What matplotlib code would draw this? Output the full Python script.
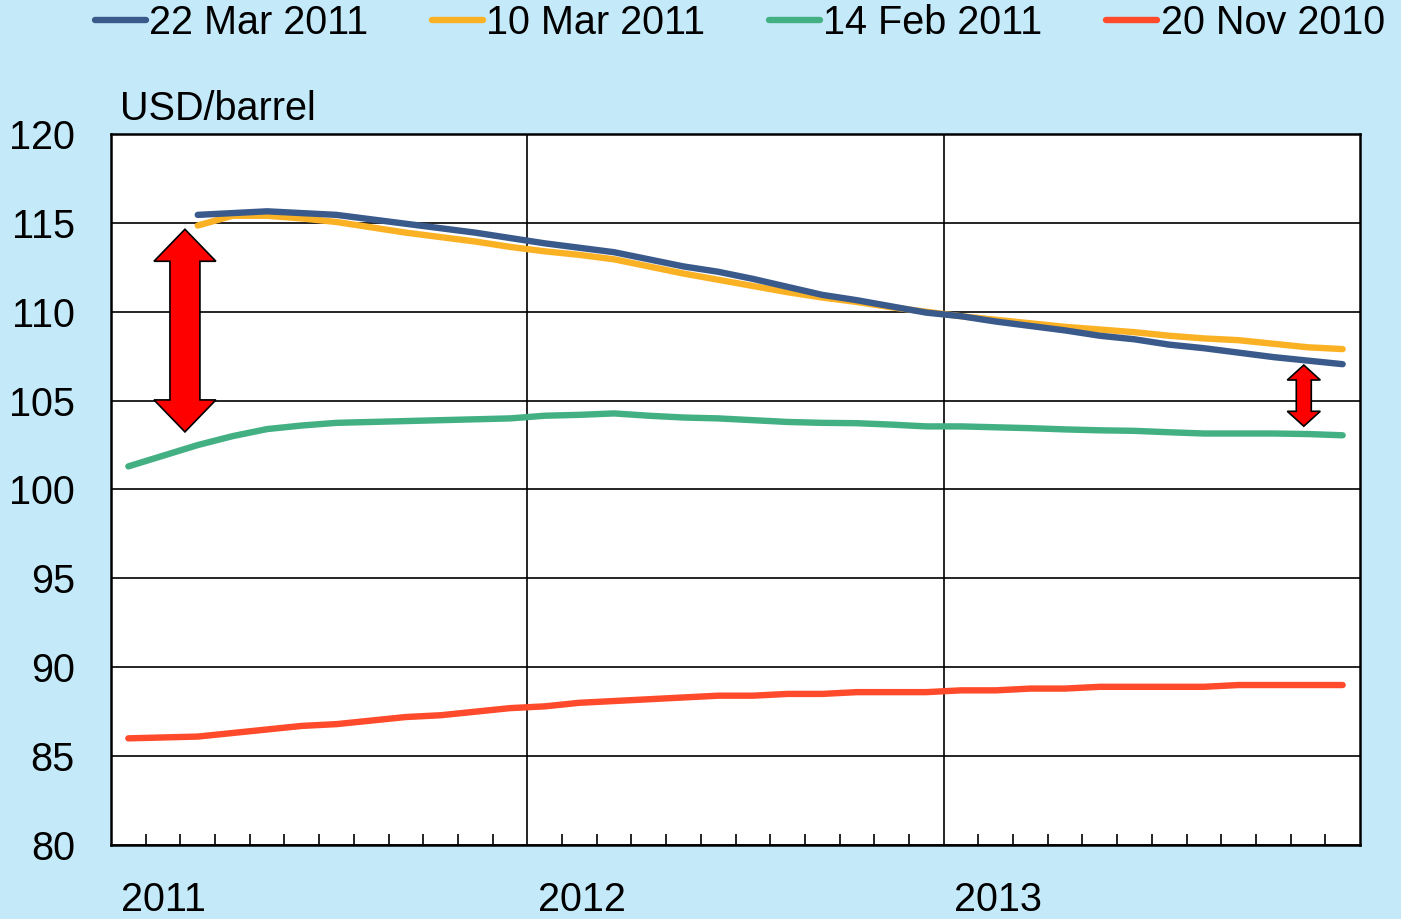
import numpy as np
import matplotlib
matplotlib.use("Agg")
import matplotlib.pyplot as plt
from matplotlib.patches import Polygon
from matplotlib.lines import Line2D

# ---------------- data ----------------
years = ["2011", "2012", "2013"]
yticks = [80, 85, 90, 95, 100, 105, 110, 115, 120]

red_nov2010 = [86.0, 86.05, 86.1, 86.3, 86.5, 86.7, 86.8, 87.0, 87.2, 87.3, 87.5, 87.7,
               87.8, 88.0, 88.1, 88.2, 88.3, 88.4, 88.4, 88.5, 88.5, 88.6, 88.6, 88.6,
               88.7, 88.7, 88.8, 88.8, 88.9, 88.9, 88.9, 88.9, 89.0, 89.0, 89.0, 89.0]

green_feb2011 = [101.3, 101.9, 102.5, 103.0, 103.4, 103.6, 103.75, 103.8, 103.85, 103.9, 103.95, 104.0,
                 104.15, 104.2, 104.28, 104.15, 104.05, 104.0, 103.9, 103.8, 103.75, 103.73, 103.65, 103.55,
                 103.55, 103.5, 103.45, 103.38, 103.33, 103.3, 103.22, 103.15, 103.15, 103.15, 103.12, 103.05]

# start March 2011
blue_mar22 = [115.45, 115.55, 115.65, 115.55, 115.45, 115.2, 114.95, 114.7, 114.45, 114.15,
              113.85, 113.6, 113.35, 112.95, 112.55, 112.25, 111.85, 111.4, 110.95, 110.65, 110.3, 109.95,
              109.75, 109.45, 109.2, 108.95, 108.65, 108.45, 108.15, 107.95, 107.7, 107.45, 107.25, 107.05]

yellow_mar10 = [114.85, 115.4, 115.4, 115.25, 115.05, 114.75, 114.45, 114.2, 113.95, 113.65,
                113.4, 113.2, 112.95, 112.55, 112.15, 111.8, 111.45, 111.1, 110.8, 110.55, 110.25, 110.0,
                109.75, 109.55, 109.35, 109.15, 109.0, 108.85, 108.65, 108.5, 108.4, 108.2, 108.0, 107.9]

labels = ["22 Mar 2011", "10 Mar 2011", "14 Feb 2011", "20 Nov 2010"]
colors = ["#3a5a8c", "#fbb124", "#43b083", "#ff4b2b"]

# ---------------- figure ----------------
plt.rcParams["font.family"] = ["Liberation Sans", "DejaVu Sans"]
BG = "#c4eafa"
FS = 28.5
fig = plt.figure(figsize=(14.01, 9.19), dpi=100, facecolor=BG)

ax = fig.add_axes([111 / 1401, 1 - 845 / 919, (1360 - 111) / 1401, (845 - 134) / 919])
ax.set_facecolor("white")

n = len(red_nov2010)
x_all = np.arange(n) + 0.5
x_mar = x_all[2:]

lw = 4.6
ax.plot(x_all, red_nov2010, color=colors[3], lw=lw, solid_capstyle="round", zorder=3)
ax.plot(x_all, green_feb2011, color=colors[2], lw=lw, solid_capstyle="round", zorder=3)
ax.plot(x_mar, yellow_mar10, color=colors[1], lw=lw, solid_capstyle="round", zorder=4)
ax.plot(x_mar, blue_mar22, color=colors[0], lw=lw, solid_capstyle="round", zorder=5)

ax.set_xlim(0, n)
ax.set_ylim(80, 120)
ax.set_yticks(yticks)
ax.set_yticklabels([str(v) for v in yticks])
ax.tick_params(axis="y", length=0, labelsize=FS, pad=26)
ax.yaxis.grid(True, color="black", lw=1.2)
ax.set_axisbelow(True)

# x: year boundaries as vertical lines, month minor ticks
ax.set_xticks([12, 24])
ax.set_xticklabels([])
ax.tick_params(axis="x", which="major", length=0)
ax.xaxis.grid(True, color="black", lw=1.2)
ax.set_xticks(np.arange(1, n), minor=True)
ax.tick_params(axis="x", which="minor", direction="in", length=8, width=1.2, color="black")
for s in ax.spines.values():
    s.set_color("black")
    s.set_linewidth(1.8)

for i, yl in enumerate(years):
    ax.text(i * 12 + 0.3, -0.051, yl, transform=ax.get_xaxis_transform(), ha="left", va="top",
            fontsize=FS, clip_on=False)

ax.text(0.007, 1.008, "USD/barrel", transform=ax.transAxes, ha="left", va="bottom", fontsize=FS)


# double arrows (axes-fraction geometry)
def double_arrow(xc, ytop, ybot, shaft_hw, head_hw, head_len):
    pts = [(xc, ytop), (xc + head_hw, ytop - head_len), (xc + shaft_hw, ytop - head_len),
           (xc + shaft_hw, ybot + head_len), (xc + head_hw, ybot + head_len), (xc, ybot),
           (xc - head_hw, ybot + head_len), (xc - shaft_hw, ybot + head_len),
           (xc - shaft_hw, ytop - head_len), (xc - head_hw, ytop - head_len)]
    ax.add_patch(Polygon(pts, closed=True, transform=ax.transAxes, facecolor="#ff0000",
                         edgecolor="black", lw=1.2, zorder=6))


double_arrow(0.0592, 0.866, 0.581, 0.012, 0.0248, 0.045)
double_arrow(0.955, 0.675, 0.589, 0.006, 0.0132, 0.021)

handles = [Line2D([], [], color=c, lw=lw, solid_capstyle="round") for c in colors]
fig.legend(handles, labels, ncol=4, loc="center", bbox_to_anchor=(0.528, 0.975), frameon=False,
           fontsize=FS, handlelength=1.3, handletextpad=0.08, columnspacing=1.6)

fig.savefig("out.png", dpi=100, facecolor=BG)
